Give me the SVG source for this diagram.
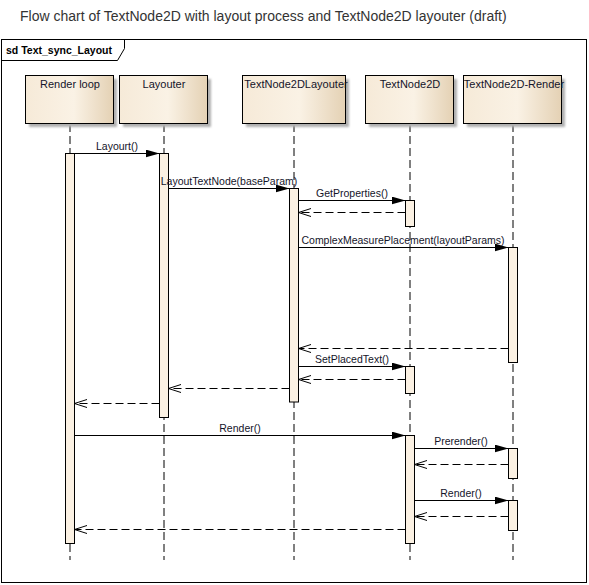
<svg xmlns="http://www.w3.org/2000/svg" width="589" height="585" viewBox="0 0 589 585">
<style>
.title{font-family:"Liberation Sans",Arial,sans-serif;font-size:14px;fill:#333}
.tab{font-family:"Liberation Sans",Arial,sans-serif;font-size:10.5px;font-weight:bold;fill:#000}
.hdr{font-family:"Liberation Sans",Arial,sans-serif;font-size:11px;fill:#14142a;text-anchor:middle}
.lbl{font-family:"Liberation Sans",Arial,sans-serif;font-size:10.5px;fill:#14142a;text-anchor:middle}
.box{fill:url(#g);stroke:#000;stroke-width:1}
.shadow{fill:#b0b0b0;filter:url(#blur)}
.life{stroke:#000;stroke-width:1;stroke-dasharray:8 4;fill:none}
.act{fill:#fbf1e3;stroke:#000;stroke-width:1}
.sync{stroke:#000;stroke-width:1;fill:none;marker-end:url(#fa)}
.ret{stroke:#000;stroke-width:1;stroke-dasharray:8 4;fill:none;marker-end:url(#oa)}
</style>
<defs>
<linearGradient id="g" x1="0" y1="0" x2="1" y2="0">
<stop offset="0" stop-color="#f6ead8"/>
<stop offset="0.55" stop-color="#faf2e5"/>
<stop offset="1" stop-color="#e4d1b4"/>
</linearGradient>
<filter id="blur" x="-10%" y="-10%" width="120%" height="120%">
<feGaussianBlur stdDeviation="1"/>
</filter>
<marker id="fa" markerUnits="userSpaceOnUse" markerWidth="15" markerHeight="9" refX="14" refY="4" orient="auto">
<path d="M0,0 L14,4 L0,8 z" fill="#000"/>
</marker>
<marker id="oa" markerUnits="userSpaceOnUse" markerWidth="14" markerHeight="10" refX="12.5" refY="4" orient="auto">
<path d="M0,0 L12.5,4 L0,8" fill="none" stroke="#000" stroke-width="1"/>
</marker>
</defs>
<rect width="589" height="585" fill="#fff"/>
<text class="title" x="20" y="21">Flow chart of TextNode2D with layout process and TextNode2D layouter (draft)</text>
<g id="frame">
<rect x="1.5" y="39.5" width="585" height="543" fill="none" stroke="#000"/>
<path d="M1.5,60.5 L117.5,60.5 L124.5,48.5 L124.5,39.5" fill="none" stroke="#000"/>
<text class="tab" x="6" y="54">sd Text_sync_Layout</text>
</g>
<g id="lifelines">
<line class="life" x1="70" y1="124" x2="70" y2="560"/>
<line class="life" x1="164" y1="124" x2="164" y2="560"/>
<line class="life" x1="294" y1="124" x2="294" y2="560"/>
<line class="life" x1="410" y1="124" x2="410" y2="560"/>
<line class="life" x1="513" y1="124" x2="513" y2="560"/>
</g>
<g id="renderloop">
<rect class="shadow" x="29" y="79" width="88" height="48"/>
<rect class="box" x="25.5" y="75.5" width="88" height="48"/>
<text class="hdr" x="70" y="88">Render loop</text>
</g>
<g id="layouter">
<rect class="shadow" x="123" y="79" width="88" height="48"/>
<rect class="box" x="119.5" y="75.5" width="88" height="48"/>
<text class="hdr" x="164" y="88">Layouter</text>
</g>
<g id="textnode2dlayouter">
<rect class="shadow" x="246" y="79" width="103" height="48"/>
<rect class="box" x="242.5" y="75.5" width="103" height="48"/>
<text class="hdr" x="296" y="88">TextNode2DLayouter</text>
</g>
<g id="textnode2d">
<rect class="shadow" x="369" y="79" width="88" height="48"/>
<rect class="box" x="365.5" y="75.5" width="88" height="48"/>
<text class="hdr" x="410" y="88">TextNode2D</text>
</g>
<g id="textnode2drender">
<rect class="shadow" x="467" y="79" width="98" height="48"/>
<rect class="box" x="463.5" y="75.5" width="98" height="48"/>
<text class="hdr" x="514" y="88">TextNode2D-Render</text>
</g>
<g id="activations">
<rect class="act" x="65.5" y="153.5" width="9" height="390"/>
<rect class="act" x="159.5" y="153.5" width="9" height="264"/>
<rect class="act" x="289.5" y="188.5" width="9" height="213.5"/>
<rect class="act" x="405.5" y="200.5" width="9" height="26"/>
<rect class="act" x="508.5" y="247.5" width="9" height="115"/>
<rect class="act" x="405.5" y="366.5" width="9" height="27"/>
<rect class="act" x="405.5" y="435.5" width="9" height="108"/>
<rect class="act" x="508.5" y="448.5" width="9" height="30"/>
<rect class="act" x="508.5" y="500.5" width="9" height="30"/>
</g>
<g id="connectors">
<line class="sync" x1="74.5" y1="153.5" x2="159.5" y2="153.5"/>
<text class="lbl" x="117" y="149.5">Layourt()</text>
<line class="sync" x1="168.5" y1="188.5" x2="289.5" y2="188.5"/>
<text class="lbl" x="229" y="184.5">LayoutTextNode(baseParam)</text>
<line class="sync" x1="298.5" y1="200.5" x2="405.5" y2="200.5"/>
<text class="lbl" x="352" y="196.5">GetProperties()</text>
<line class="ret" x1="405.5" y1="212.5" x2="298.5" y2="212.5"/>
<line class="sync" x1="298.5" y1="247.5" x2="508.5" y2="247.5"/>
<text class="lbl" x="403" y="243.5">ComplexMeasurePlacement(layoutParams)</text>
<line class="ret" x1="508.5" y1="348.5" x2="298.5" y2="348.5"/>
<line class="sync" x1="298.5" y1="366.5" x2="405.5" y2="366.5"/>
<text class="lbl" x="352" y="362.5">SetPlacedText()</text>
<line class="ret" x1="405.5" y1="379.5" x2="298.5" y2="379.5"/>
<line class="ret" x1="289.5" y1="388.5" x2="168.5" y2="388.5"/>
<line class="ret" x1="159.5" y1="403.5" x2="74.5" y2="403.5"/>
<line class="sync" x1="74.5" y1="435.5" x2="405.5" y2="435.5"/>
<text class="lbl" x="240" y="431.5">Render()</text>
<line class="sync" x1="414.5" y1="448.5" x2="508.5" y2="448.5"/>
<text class="lbl" x="461" y="444.5">Prerender()</text>
<line class="ret" x1="508.5" y1="464.5" x2="414.5" y2="464.5"/>
<line class="sync" x1="414.5" y1="500.5" x2="508.5" y2="500.5"/>
<text class="lbl" x="461" y="496.5">Render()</text>
<line class="ret" x1="508.5" y1="516.5" x2="414.5" y2="516.5"/>
<line class="ret" x1="405.5" y1="529.5" x2="74.5" y2="529.5"/>
</g>
</svg>
